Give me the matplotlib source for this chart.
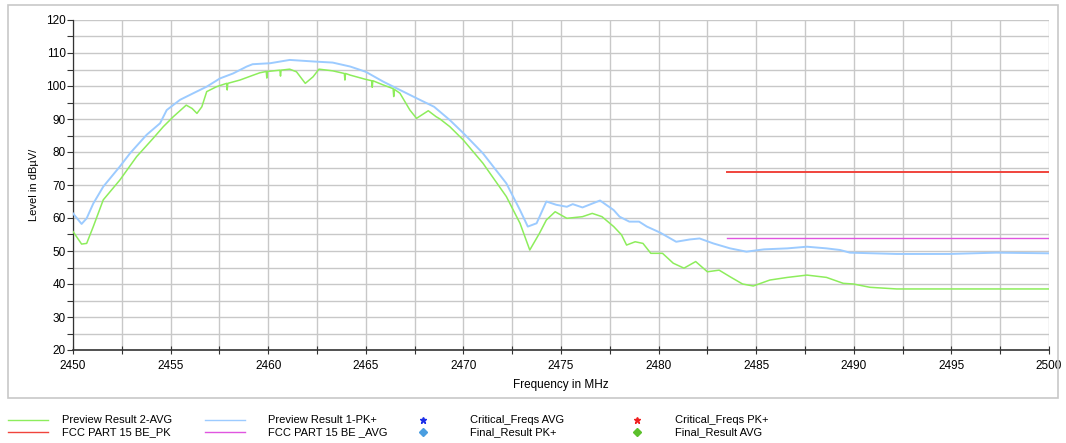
import numpy as np
import matplotlib
matplotlib.use('Agg')
import matplotlib.pyplot as plt
from matplotlib.lines import Line2D
from matplotlib.patches import Rectangle

plt.rcParams['font.family'] = ['Liberation Sans', 'DejaVu Sans']

# Preview Result 1-PK+ (blue)
pk_freq = [2450.0, 2450.44, 2450.7, 2451.04, 2451.55, 2452.4, 2452.92, 2453.77, 2454.46,
           2454.8, 2455.48, 2456.16, 2456.85, 2457.53, 2458.2, 2458.9, 2459.2, 2460.1,
           2461.1, 2462.4, 2463.3, 2464.2, 2465.0, 2465.9, 2466.75, 2467.6, 2468.5,
           2469.3, 2470.0, 2471.0, 2472.2, 2472.9, 2473.3, 2473.75, 2474.25, 2474.76,
           2475.3, 2475.6, 2476.1, 2477.0, 2477.7, 2478.0, 2478.5, 2479.0, 2479.4,
           2480.07, 2480.9, 2481.6, 2482.1, 2482.8, 2483.66, 2484.5, 2485.4, 2486.6,
           2487.6, 2488.6, 2489.3, 2489.8, 2492.2, 2494.9, 2497.3, 2500.0]
pk_level = [61.4, 58.2, 59.9, 64.4, 69.5, 75.6, 79.6, 85.2, 88.7,
            92.7, 95.8, 97.8, 99.8, 102.3, 103.8, 105.9, 106.6, 106.9,
            107.9, 107.4, 107.1, 105.9, 104.3, 101.3, 98.8, 96.3, 93.7,
            89.7, 85.7, 79.6, 70.5, 62.4, 57.4, 58.4, 65.0, 64.0,
            63.4, 64.2, 63.2, 65.3, 62.4, 60.4, 58.9, 58.9, 57.4,
            55.6, 52.8, 53.5, 53.8, 52.3, 50.8, 49.8, 50.5, 50.8,
            51.3, 50.8, 50.3, 49.5, 49.1, 49.1, 49.5, 49.3]

# Preview Result 2-AVG (green)
av_freq = [2450.0, 2450.44, 2450.7, 2451.04, 2451.55, 2452.4, 2453.26, 2454.1, 2454.63,
           2455.14, 2455.8, 2456.1, 2456.35, 2456.6, 2456.85, 2457.36, 2457.87, 2457.9,
           2457.93, 2458.55, 2459.24, 2459.57, 2459.9, 2459.93, 2459.96, 2460.6, 2460.63,
           2460.66, 2461.1, 2461.45, 2461.9, 2462.3, 2462.6, 2463.3, 2463.9, 2463.93,
           2463.96, 2464.2, 2465.0, 2465.3, 2465.33, 2465.36, 2465.9, 2466.4, 2466.43,
           2466.46, 2466.75, 2467.26, 2467.6, 2468.2, 2468.6, 2468.8, 2469.3, 2470.0,
           2471.0, 2472.2, 2472.9, 2473.4, 2473.9, 2474.25, 2474.7, 2475.3, 2476.1,
           2476.6, 2477.1, 2477.7, 2478.1, 2478.36, 2478.8, 2479.2, 2479.6, 2480.2,
           2480.75, 2481.3, 2481.9, 2482.5, 2483.1, 2483.66, 2484.3, 2484.85, 2485.7,
           2486.6, 2487.6, 2488.6, 2489.46, 2489.98, 2490.83, 2492.2, 2495.6, 2500.0]
av_level = [55.9, 52.1, 52.3, 57.4, 65.5, 71.5, 78.6, 84.1, 87.7,
            90.7, 94.2, 93.2, 91.7, 93.7, 98.3, 99.8, 100.8, 98.8,
            100.8, 101.8, 103.3, 104.0, 104.4, 102.4, 104.4, 104.8, 103.0,
            104.8, 105.1, 104.3, 100.8, 102.8, 105.1, 104.6, 103.8, 101.8,
            103.8, 103.3, 102.0, 101.6, 99.6, 101.6, 100.3, 99.2, 96.8,
            99.0, 97.8, 92.7, 90.2, 92.5, 90.7, 90.0, 87.7, 83.6,
            76.6, 66.5, 58.4, 50.3, 55.4, 59.4, 61.9, 59.9, 60.4,
            61.4, 60.4, 57.4, 54.9, 51.8, 52.8, 52.3, 49.3, 49.3,
            46.3, 44.8, 46.8, 43.7, 44.2, 42.2, 40.0, 39.4, 41.2,
            42.0, 42.7, 42.0, 40.2, 40.0, 39.0, 38.5, 38.5, 38.5]

# FCC limit lines
limit_freq = [2483.5, 2500.0]
limit_pk = [74.0, 74.0]
limit_avg = [54.0, 54.0]

fig = plt.figure(figsize=(10.66, 4.43), dpi=100)
fig.patches.append(Rectangle((8 / 1066, 1 - 398 / 443), 1050 / 1066, 393 / 443,
                             transform=fig.transFigure, fill=False,
                             edgecolor='#c8c8c8', linewidth=1.2))

ax = fig.add_axes([73 / 1066, 1 - 350 / 443, 976 / 1066, 330 / 443])
ax.plot(pk_freq, pk_level, color='#9ccbff', linewidth=1.4, zorder=3)
ax.plot(av_freq, av_level, color='#8ded5c', linewidth=1.1, zorder=3)
ax.plot(limit_freq, limit_pk, color='#f0443c', linewidth=1.4, zorder=4)
ax.plot(limit_freq, limit_avg, color='#e055e0', linewidth=1.0, zorder=4)

ax.set_xlim(2450, 2500)
ax.set_ylim(20, 120)
ax.set_xticks(np.arange(2450, 2501, 5))
ax.set_xticks(np.arange(2450, 2501, 2.5), minor=True)
ax.set_yticks(np.arange(20, 121, 10))
ax.set_yticks(np.arange(20, 121, 5), minor=True)
ax.grid(True, which='both', color='#c8c8c8', linewidth=1.0, zorder=0)
ax.set_axisbelow(True)

for s in ['top', 'right']:
    ax.spines[s].set_visible(False)
ax.spines['left'].set_color('#333333')
ax.spines['bottom'].set_color('#333333')
ax.spines['left'].set_linewidth(0.9)
ax.spines['bottom'].set_linewidth(1.2)
ax.tick_params(axis='y', which='both', direction='out', length=4, width=0.8,
               colors='#333333', labelsize=8.5, labelcolor='black', pad=1)
ax.tick_params(axis='x', which='both', direction='inout', length=6, width=0.8,
               colors='#333333', labelsize=8.5, labelcolor='black', pad=4)
ax.set_xlabel('Frequency in MHz', fontsize=8.5, labelpad=5)
ax.set_ylabel('Level in dBµV/', fontsize=8, labelpad=5)

# legend below the chart
W, H = 1066, 443
def fx(px):
    return px / W
def fy(py):
    return 1 - py / H

rows = [420, 432]
line_items = [(8, 48, 62, rows[0], '#8ded5c', 'Preview Result 2-AVG'),
              (205, 245, 268, rows[0], '#9ccbff', 'Preview Result 1-PK+'),
              (8, 48, 62, rows[1], '#f0443c', 'FCC PART 15 BE_PK'),
              (205, 245, 268, rows[1], '#e055e0', 'FCC PART 15 BE _AVG')]
for x0, x1, tx, ry, c, lab in line_items:
    fig.add_artist(Line2D([fx(x0), fx(x1)], [fy(ry), fy(ry)], color=c, linewidth=1.0))
    fig.text(fx(tx), fy(ry), lab, fontsize=8, va='center', ha='left')

marker_items = [(423, 470, rows[0], '*', '#1c2ee8', 'Critical_Freqs AVG'),
                (637, 675, rows[0], '*', '#f02020', 'Critical_Freqs PK+'),
                (423, 470, rows[1], 'D', '#4a9ee0', 'Final_Result PK+'),
                (637, 675, rows[1], 'D', '#5cc02c', 'Final_Result AVG')]
for mx, tx, ry, m, c, lab in marker_items:
    fig.add_artist(Line2D([fx(mx)], [fy(ry)], marker=m, color=c,
                          markersize=4 if m == 'D' else 5, linestyle='none'))
    fig.text(fx(tx), fy(ry), lab, fontsize=8, va='center', ha='left')

fig.savefig('out.png', dpi=100)
